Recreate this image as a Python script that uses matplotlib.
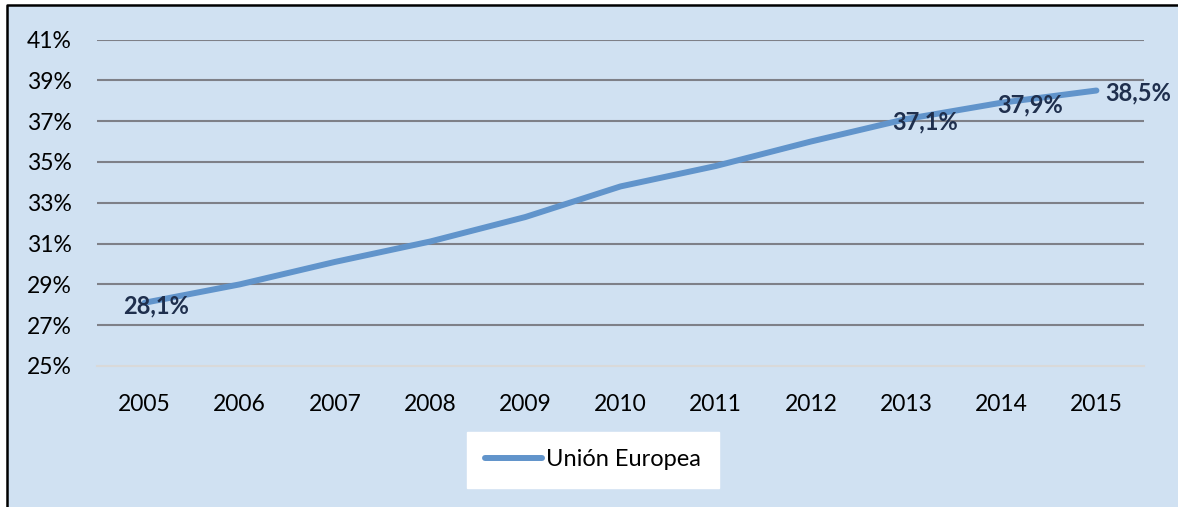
import matplotlib
matplotlib.use("Agg")
import matplotlib.pyplot as plt
from matplotlib.patches import Rectangle
from matplotlib.lines import Line2D

years = ["2005", "2006", "2007", "2008", "2009", "2010", "2011", "2012", "2013", "2014", "2015"]
ue_values = [28.1, 29.0, 30.1, 31.1, 32.3, 33.8, 34.8, 36.0, 37.1, 37.9, 38.5]
labelled_years = ["2005", "2013", "2014", "2015"]
y_ticks = [25, 27, 29, 31, 33, 35, 37, 39, 41]

# offsets of the value labels, in points (right, down)
label_offsets = {"2005": (8, -2), "2013": (14, -2), "2014": (21, -1.5), "2015": (30, -2)}

plt.rcParams["font.family"] = ["Lato", "DejaVu Sans"]

bg = "#D0E1F2"
line_color = "#6194CB"
label_color = "#1F2F4D"

fig = plt.figure(figsize=(11.78, 5.07), dpi=100, facecolor="white")
# chart area: light blue fill, black border only on top and left
x0, y1 = 7 / 1178, 1 - 4.5 / 507
fig.patches.append(Rectangle((x0, 0), 1 - x0, y1, transform=fig.transFigure,
                             facecolor=bg, edgecolor="none", zorder=-10))
fig.lines.append(Line2D([x0, x0, 1], [0, y1, y1], transform=fig.transFigure,
                        color="black", linewidth=1.8, zorder=-9))

ax = fig.add_axes([97 / 1178, 1 - 366 / 507, 1047 / 1178, 326.5 / 507])
ax.set_facecolor("none")

x = list(range(len(years)))
ax.plot(x, ue_values, color=line_color, linewidth=4.3, label="Unión Europea",
        solid_capstyle="round", zorder=3)

for yr, val in zip(years, ue_values):
    if yr in labelled_years:
        dx, dy = label_offsets[yr]
        ax.annotate(f"{val:.1f}%".replace(".", ","), (years.index(yr), val),
                    xytext=(dx, dy), textcoords="offset points",
                    ha="center", va="center", fontsize=17, fontweight="bold",
                    color=label_color, zorder=4)

ax.set_xlim(-0.5, len(years) - 0.5)
ax.set_ylim(25, 41)
ax.set_yticks(y_ticks)
ax.set_yticklabels([f"{t}%" for t in y_ticks])
ax.set_xticks(x)
ax.set_xticklabels(years)
ax.tick_params(axis="y", length=0, pad=18, labelsize=16.5, colors="black")
ax.tick_params(axis="x", length=0, pad=20, labelsize=16.5, colors="black")

for t in y_ticks[1:]:
    ax.axhline(t, color="#7E8088", linewidth=1.5, zorder=1)
for s in ["top", "right", "left"]:
    ax.spines[s].set_visible(False)
ax.spines["bottom"].set_color("#D9D9D9")
ax.spines["bottom"].set_linewidth(1.5)

leg = fig.legend(loc="center", bbox_to_anchor=(593 / 1178, 1 - 460 / 507),
                 fontsize=17, frameon=True, fancybox=False, handlelength=2.4,
                 handletextpad=0.2, borderpad=0.75)
leg.get_frame().set_facecolor("white")
leg.get_frame().set_edgecolor("white")
leg.get_frame().set_alpha(1)

fig.savefig("out.png", dpi=100, facecolor="white")
